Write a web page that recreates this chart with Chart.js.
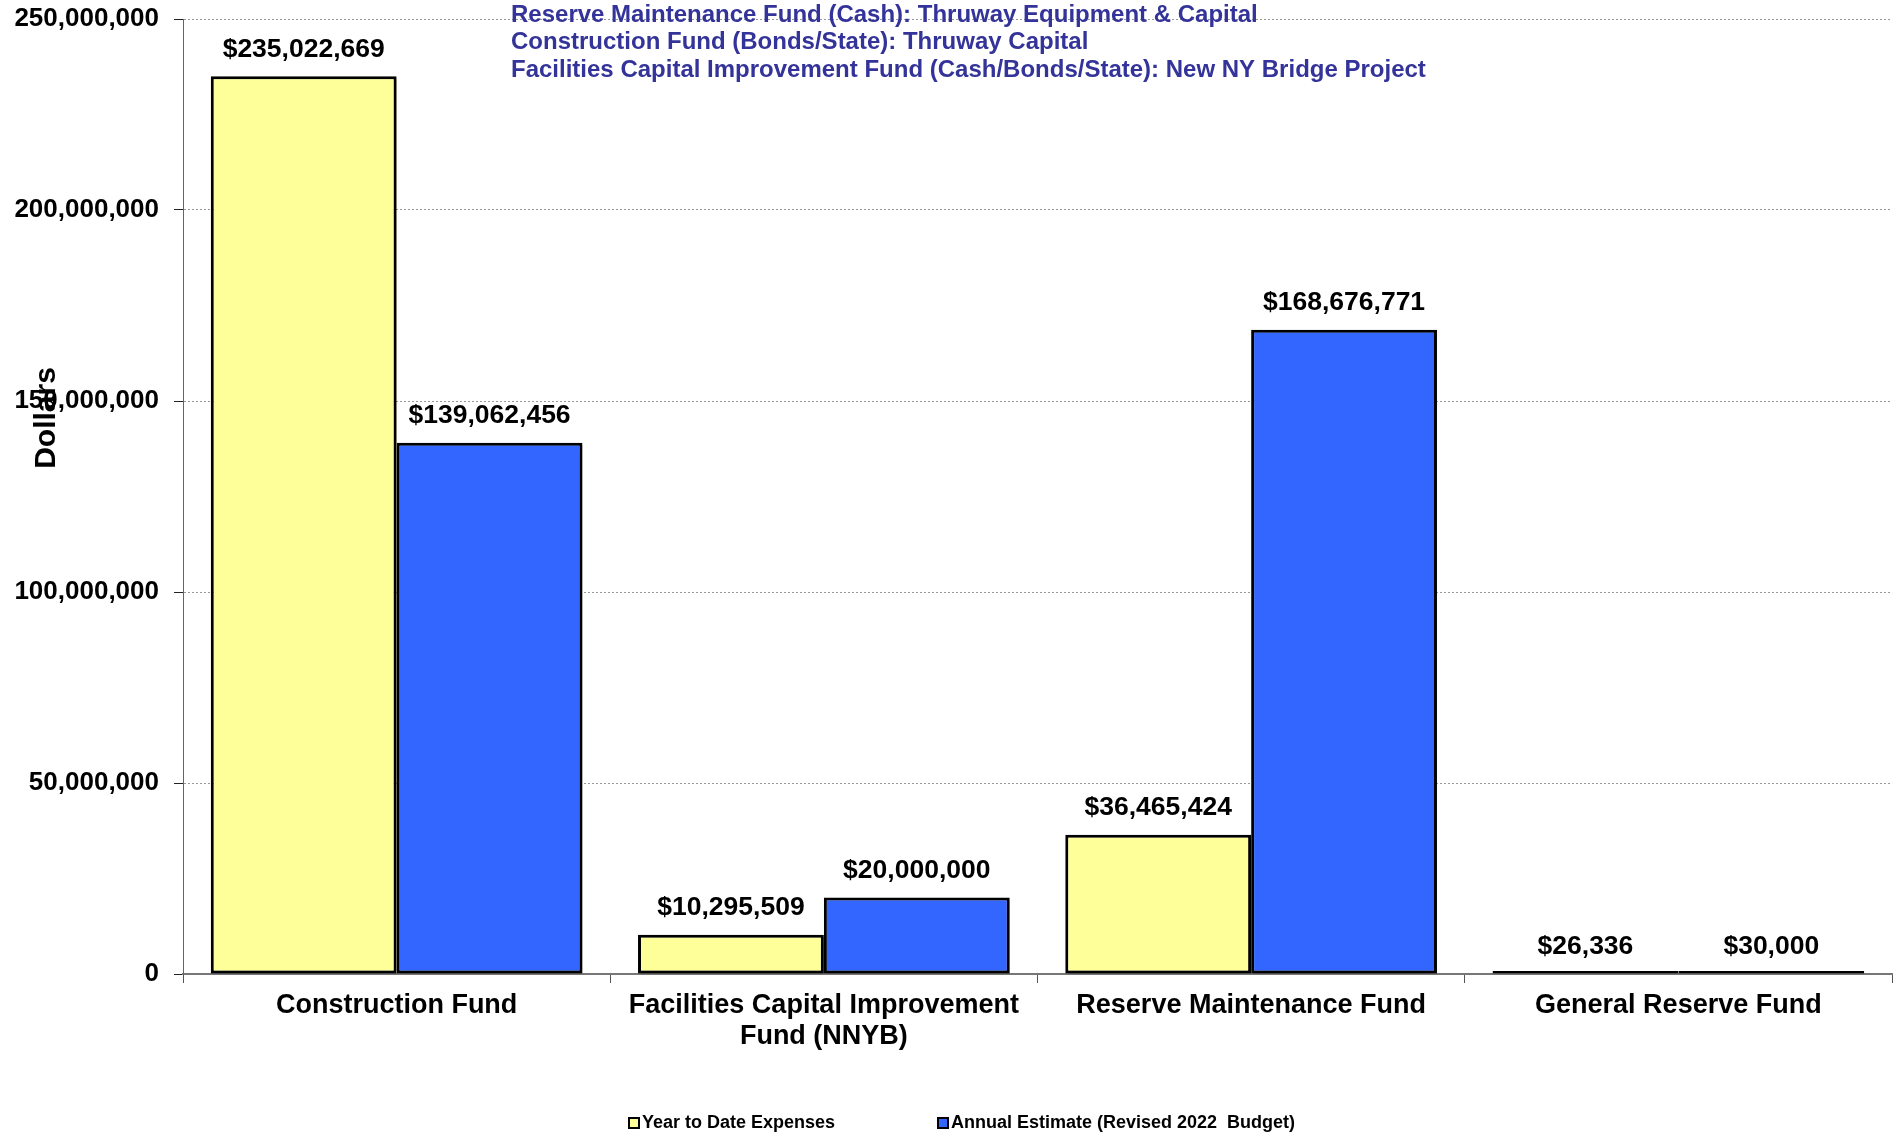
<!DOCTYPE html>
<html>
<head>
<meta charset="utf-8">
<script src="https://cdn.jsdelivr.net/npm/chart.js@4/dist/chart.umd.min.js"></script>
<style>
  body { margin: 0; background: #fff; }
  canvas { display: block; }
</style>
</head>
<body>
<canvas id="fundChart" width="1898" height="1134"></canvas>
<script>
const categories = [
    'Construction Fund',
    ['Facilities Capital Improvement', 'Fund (NNYB)'],
    'Reserve Maintenance Fund',
    'General Reserve Fund'
];
const yearToDate = [235022669, 10295509, 36465424, 26336];
const annualEstimate = [139062456, 20000000, 168676771, 30000];
const seriesNames = ['Year to Date Expenses', 'Annual Estimate (Revised 2022  Budget)'];
const notes = [
    'Reserve Maintenance Fund (Cash): Thruway Equipment & Capital',
    'Construction Fund (Bonds/State): Thruway Capital',
    'Facilities Capital Improvement Fund (Cash/Bonds/State): New NY Bridge Project'
];
const yTicks = [0, 50000000, 100000000, 150000000, 200000000, 250000000];

const FONT = '"Liberation Sans", Arial, sans-serif';
const colors = ['#FFFF99', '#3366FF'];

// Bar shadow, value labels, notes, axis title and legend
const extras = {
    id: 'extras',
    beforeDatasetsDraw(chart) {
        const ctx = chart.ctx;
        ctx.save();
        ctx.shadowColor = 'rgba(0,0,0,0.3)';
        ctx.shadowOffsetX = 3;
        ctx.shadowOffsetY = 3;
        ctx.shadowBlur = 3;
    },
    afterDatasetsDraw(chart) {
        chart.ctx.restore();
        const ctx = chart.ctx;
        const yScale = chart.scales.y;
        ctx.save();
        ctx.font = 'bold 26.5px ' + FONT;
        ctx.fillStyle = '#000';
        ctx.textAlign = 'center';
        ctx.textBaseline = 'middle';
        chart.data.datasets.forEach((ds, i) => {
            chart.getDatasetMeta(i).data.forEach((bar, j) => {
                const y = yScale.getPixelForValue(ds.data[j]);
                ctx.fillText('$' + ds.data[j].toLocaleString('en-US'), bar.x, y - 27);
            });
        });
        ctx.restore();
    },
    afterDraw(chart) {
        const ctx = chart.ctx;
        ctx.save();

        // notes at the top
        ctx.font = 'bold 24px ' + FONT;
        ctx.fillStyle = '#333399';
        ctx.textAlign = 'left';
        ctx.textBaseline = 'middle';
        notes.forEach((t, i) => ctx.fillText(t, 511, 15 + i * 27.5));

        // y axis title
        ctx.save();
        ctx.translate(47, 418);
        ctx.rotate(-Math.PI / 2);
        ctx.font = 'bold 30px ' + FONT;
        ctx.fillStyle = '#000';
        ctx.textAlign = 'center';
        ctx.textBaseline = 'middle';
        ctx.fillText('Dollars', 0, 0);
        ctx.restore();

        // legend
        ctx.font = 'bold 18px ' + FONT;
        ctx.textBaseline = 'middle';
        const legendX = [629, 938];
        const legendY = 1123;
        seriesNames.forEach((name, i) => {
            ctx.fillStyle = colors[i];
            ctx.fillRect(legendX[i], legendY - 5, 10, 10);
            ctx.strokeStyle = '#000';
            ctx.lineWidth = 2;
            ctx.strokeRect(legendX[i], legendY - 5, 10, 10);
            ctx.fillStyle = '#000';
            ctx.fillText(name, legendX[i] + 13, legendY);
        });
        ctx.restore();
    }
};

new Chart(document.getElementById('fundChart'), {
    type: 'bar',
    data: {
        labels: categories,
        datasets: [
            {
                label: seriesNames[0],
                data: yearToDate,
                backgroundColor: colors[0],
                borderColor: '#000',
                borderWidth: 3,
                borderSkipped: false,
                minBarLength: 3
            },
            {
                label: seriesNames[1],
                data: annualEstimate,
                backgroundColor: colors[1],
                borderColor: '#000',
                borderWidth: 3,
                borderSkipped: false,
                minBarLength: 3
            }
        ]
    },
    options: {
        responsive: false,
        animation: false,
        devicePixelRatio: 1,
        layout: { padding: { top: 19, right: 6, left: 0, bottom: 0 } },
        datasets: {
            bar: { categoryPercentage: 0.87, barPercentage: 1.0 }
        },
        plugins: {
            legend: { display: false },
            tooltip: { enabled: false },
            title: { display: false }
        },
        scales: {
            x: {
                grid: {
                    drawOnChartArea: false,
                    drawTicks: true,
                    tickLength: 9,
                    color: '#555'
                },
                border: { color: '#777', width: 2 },
                ticks: {
                    color: '#000',
                    padding: 7,
                    maxRotation: 0,
                    autoSkip: false,
                    font: { family: FONT, size: 27, weight: 'bold', lineHeight: 1.15 }
                },
                afterFit(scale) {
                    scale.height = 160;
                    scale.paddingLeft = 0;
                    scale.paddingRight = 0;
                }
            },
            y: {
                min: 0,
                max: 250000000,
                afterBuildTicks(scale) {
                    scale.ticks = yTicks.map(v => ({ value: v }));
                },
                grid: {
                    color: '#999',
                    lineWidth: 1,
                    tickColor: '#222',
                    tickLength: 9,
                    tickBorderDash: [],
                    drawTicks: true
                },
                border: { color: '#666', width: 1, dash: [2, 2] },
                ticks: {
                    color: '#000',
                    padding: 15,
                    font: { family: FONT, size: 26, weight: 'bold' },
                    callback: v => v.toLocaleString('en-US')
                },
                afterFit(scale) {
                    scale.width = 183;
                    scale.paddingTop = 0;
                    scale.paddingBottom = 0;
                }
            }
        }
    },
    plugins: [extras]
});
</script>
</body>
</html>
